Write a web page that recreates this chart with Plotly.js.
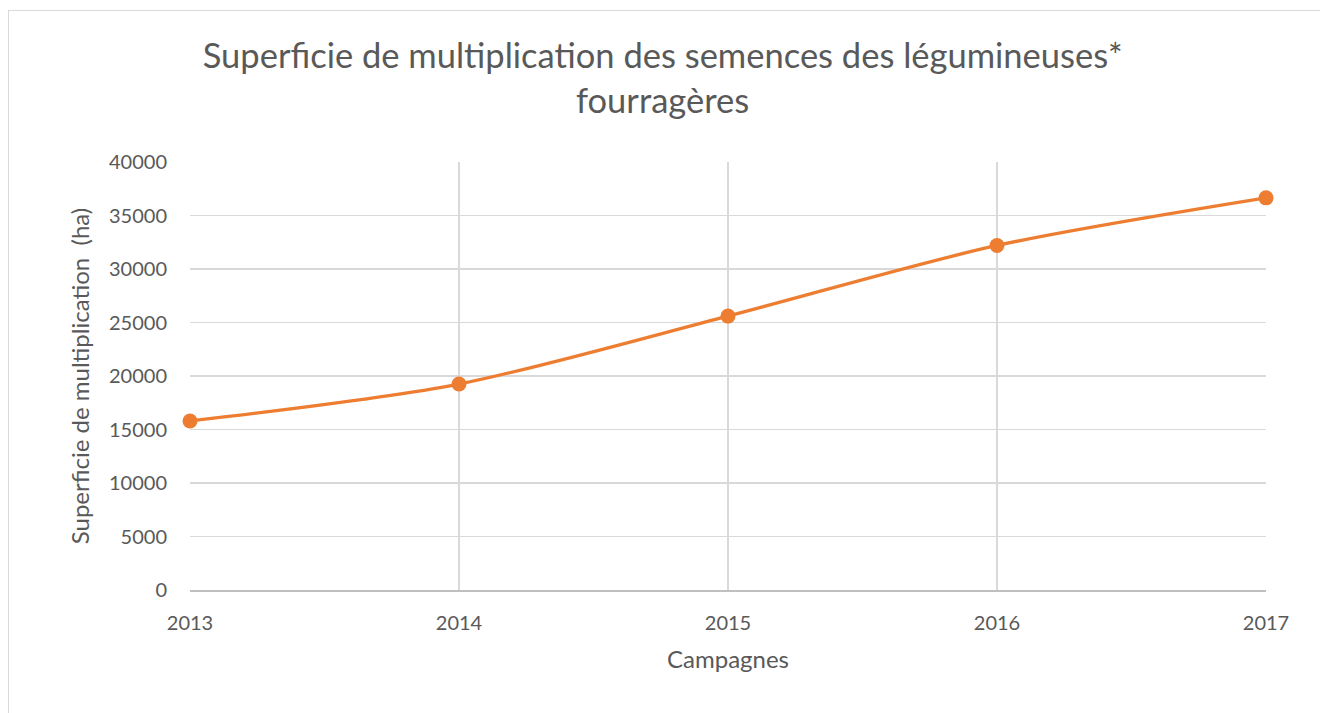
<!DOCTYPE html>
<html><head><meta charset="utf-8">
<script src="https://cdn.plot.ly/plotly-3.0.1.min.js"></script>
<style>
html,body{margin:0;padding:0;background:#fff;}
#frame{position:absolute;left:8px;top:10px;width:1330px;height:720px;border:1.5px solid #d9d9d9;box-sizing:border-box;}
#chart{position:absolute;left:0;top:0;width:1320px;height:713px;}
</style></head>
<body>
<div id="frame"></div>
<div id="chart"></div>
<script>
const years = [2013, 2014, 2015, 2016, 2017];
const superficie = [15800, 19250, 25600, 32200, 36650];
const yTicks = [0, 5000, 10000, 15000, 20000, 25000, 30000, 35000, 40000];
const titleText = "Superficie de multiplication des semences des légumineuses*<br>fourragères";
const xTitle = "Campagnes";
const yTitle = "Superficie de multiplication  (ha)";

const font = "Lato, 'Open Sans', sans-serif";
Plotly.newPlot('chart', [{
  x: years, y: superficie, type: 'scatter', mode: 'lines+markers',
  line: {color: '#ED7D31', width: 3.3, shape: 'spline', smoothing: 0.8},
  marker: {color: '#ED7D31', size: 15},
  cliponaxis: false,
  hoverinfo: 'none'
}], {
  width: 1320, height: 713,
  margin: {l: 190, r: 54, t: 162, b: 123},
  paper_bgcolor: 'rgba(0,0,0,0)', plot_bgcolor: 'rgba(0,0,0,0)',
  showlegend: false,
  font: {family: font, color: '#595959'},
  title: {text: titleText, x: 0.502, xanchor: 'center', y: 0.904, yanchor: 'middle',
          yref: 'container', font: {size: 34.5, color: '#595959', family: font, lineposition: 'none'}},
  xaxis: {range: [2013, 2017], tickvals: years, ticktext: years.map(String),
          showgrid: true, gridcolor: '#d9d9d9', gridwidth: 1.3,
          showline: true, linecolor: '#bfbfbf', linewidth: 1.5,
          ticks: '', ticklen: 0, ticklabelstandoff: 14, tickfont: {size: 20, color: '#595959'},
          zeroline: false,
          title: {text: xTitle, font: {size: 24, color: '#595959'}, standoff: 18}},
  yaxis: {range: [0, 40000], tickvals: yTicks, ticktext: yTicks.map(String),
          showgrid: true, gridcolor: '#d9d9d9', gridwidth: 1.3,
          showline: false, zeroline: false, ticks: '', ticklabelstandoff: 22,
          tickfont: {size: 20, color: '#595959'},
          title: {text: yTitle, font: {size: 24, color: '#595959'}, standoff: 12}}
}, {displayModeBar: false, staticPlot: true});
</script>
</body></html>
